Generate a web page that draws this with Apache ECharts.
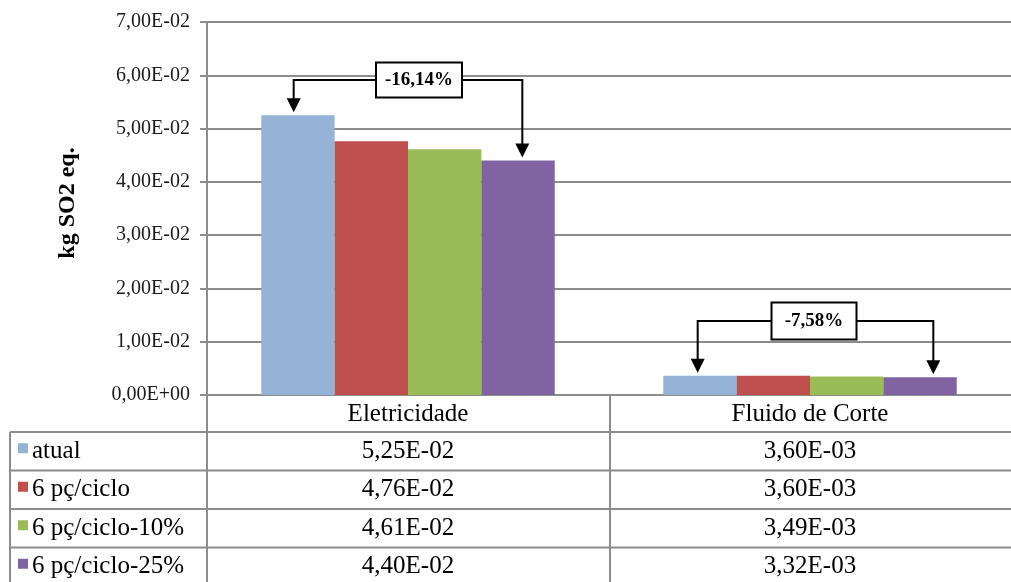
<!DOCTYPE html>
<html>
<head>
<meta charset="utf-8">
<title>kg SO2 eq.</title>
<script src="https://cdn.jsdelivr.net/npm/echarts@6/dist/echarts.min.js"></script>
<style>
  html, body { margin: 0; padding: 0; background: #fff; }
  #chart { width: 1011px; height: 582px; }
</style>
</head>
<body>
<div id="chart"></div>
<script>
// ---- data ----
const categories = ['Eletricidade', 'Fluido de Corte'];
const seriesNames = ['atual', '6 pç/ciclo', '6 pç/ciclo-10%', '6 pç/ciclo-25%'];
const atual = [5.25e-2, 3.60e-3];
const pc6 = [4.76e-2, 3.60e-3];
const pc6m10 = [4.61e-2, 3.49e-3];
const pc6m25 = [4.40e-2, 3.32e-3];
const seriesValues = [atual, pc6, pc6m10, pc6m25];
const yMin = 0, yMax = 0.07, yStep = 0.01;
// reduction callouts: label and the value level of the bracket line, per category
const changeLabels = ['-16,14%', '-7,58%'];
const changeLevels = [5.91e-2, 1.39e-2];

// ---- styles ----
const colors = ['#95B3D7', '#C0504D', '#9BBB59', '#8064A2'];
const FONT = '"Liberation Serif", "Times New Roman", serif';
const GRID = { left: 207, top: 22, width: 806, height: 373 };
const lineGray = '#8c8c8c';
const textColor = '#000';
const tableFont = '25px ' + FONT;
const headerH = 37, rowH = 38.5, tableLeft = 10;
const gapRatio = 0.27;
// arrow x nudges (px) from the bar centre, and box centre nudge from category centre
const arrowNudge = [[-4, 4], [-2, 13]];
const boxNudge = [11, 4];
const boxSize = [[86, 35], [85, 37]];

function sci(v) {
  if (v === 0) return '0,00E+00';
  const parts = v.toExponential(2).split('e');
  const n = parseInt(parts[1], 10);
  return parts[0].replace('.', ',') + 'E' + (n < 0 ? '-' : '+') + String(Math.abs(n)).padStart(2, '0');
}

const chart = echarts.init(document.getElementById('chart'), null, { renderer: 'canvas' });

chart.setOption({
  animation: false,
  backgroundColor: '#fff',
  grid: { left: GRID.left, top: GRID.top, width: GRID.width, height: GRID.height, containLabel: false },
  xAxis: {
    type: 'category',
    data: categories,
    axisLine: { show: true, lineStyle: { color: lineGray, width: 2 } },
    axisTick: { show: false },
    axisLabel: { margin: 7, fontFamily: FONT, fontSize: 25, color: textColor, lineHeight: 25 }
  },
  yAxis: {
    type: 'value',
    min: yMin, max: yMax, interval: yStep,
    axisLine: { show: true, lineStyle: { color: lineGray, width: 2 } },
    axisTick: { show: true, length: 7, lineStyle: { color: lineGray, width: 2 } },
    splitLine: { show: true, lineStyle: { color: lineGray, width: 2 } },
    axisLabel: { margin: 17, fontFamily: FONT, fontSize: 20, color: '#1a1a1a', formatter: sci }
  },
  series: seriesNames.map((name, i) => ({
    name: name,
    type: 'bar',
    data: seriesValues[i],
    barGap: '0%',
    barCategoryGap: (gapRatio * 100) + '%',
    itemStyle: { color: colors[i] }
  }))
});

// ---- overlay: axis title, data table, reduction callouts ----
const g = [];

g.push({
  type: 'text', x: 68, y: 203, rotation: Math.PI / 2,
  style: { text: 'kg SO2 eq.', font: 'bold 24px ' + FONT, fill: textColor,
           textAlign: 'center', textVerticalAlign: 'middle' }
});

const axisY = chart.convertToPixel({ yAxisIndex: 0 }, 0);
const gridRight = GRID.left + GRID.width;
const catW = GRID.width / categories.length;
const catCenters = categories.map(c => chart.convertToPixel({ xAxisIndex: 0 }, c));
const barW = catW * (1 - gapRatio) / seriesNames.length;
const tableTop = axisY + headerH;
const tableBottom = 600;

function hline(y, x1, x2) {
  g.push({ type: 'line', shape: { x1: x1, y1: y, x2: x2, y2: y },
           style: { stroke: lineGray, lineWidth: 2 }, silent: true });
}
function vline(x, y1, y2) {
  g.push({ type: 'line', shape: { x1: x, y1: y1, x2: x, y2: y2 },
           style: { stroke: lineGray, lineWidth: 2 }, silent: true });
}

// table grid
for (let r = 0; r < seriesNames.length; r++) hline(tableTop + r * rowH, tableLeft, gridRight);
vline(tableLeft, tableTop, tableBottom);
vline(GRID.left, axisY, tableBottom);
for (let c = 1; c < categories.length; c++) vline(GRID.left + c * catW, axisY, tableBottom);

// table rows: legend key + values
seriesNames.forEach((name, r) => {
  const cy = tableTop + r * rowH + rowH / 2;
  g.push({ type: 'rect', shape: { x: 18, y: cy - 8, width: 10, height: 10 },
           style: { fill: colors[r] }, silent: true });
  g.push({ type: 'text', x: 32, y: cy,
           style: { text: name, font: tableFont, fill: textColor, textAlign: 'left', textVerticalAlign: 'middle' } });
  categories.forEach((c, k) => {
    g.push({ type: 'text', x: catCenters[k], y: cy,
             style: { text: sci(seriesValues[r][k]), font: tableFont, fill: textColor,
                      textAlign: 'center', textVerticalAlign: 'middle' } });
  });
});

// reduction callouts from the first to the last series in each category
function arrowHead(x, tipY) {
  g.push({ type: 'polygon', shape: { points: [[x - 7, tipY - 14], [x + 7, tipY - 14], [x, tipY]] },
           style: { fill: '#000' }, silent: true });
}
categories.forEach((c, k) => {
  const first = 0, last = seriesNames.length - 1;
  const xl = catCenters[k] + (first - (seriesNames.length - 1) / 2) * barW + arrowNudge[k][0];
  const xr = catCenters[k] + (last - (seriesNames.length - 1) / 2) * barW + arrowNudge[k][1];
  const tipL = chart.convertToPixel({ yAxisIndex: 0 }, seriesValues[first][k]) - 3;
  const tipR = chart.convertToPixel({ yAxisIndex: 0 }, seriesValues[last][k]) - 3;
  const ly = chart.convertToPixel({ yAxisIndex: 0 }, changeLevels[k]);
  const bx = catCenters[k] + boxNudge[k];
  const [bw, bh] = boxSize[k];
  g.push({ type: 'polyline', shape: { points: [[xl, tipL - 12], [xl, ly], [bx - bw / 2, ly]] },
           style: { stroke: '#000', lineWidth: 2, fill: null }, silent: true });
  g.push({ type: 'polyline', shape: { points: [[bx + bw / 2, ly], [xr, ly], [xr, tipR - 12]] },
           style: { stroke: '#000', lineWidth: 2, fill: null }, silent: true });
  arrowHead(xl, tipL);
  arrowHead(xr, tipR);
  g.push({ type: 'rect', shape: { x: bx - bw / 2, y: ly - bh / 2, width: bw, height: bh },
           style: { fill: '#fff', stroke: '#000', lineWidth: 2 }, silent: true });
  g.push({ type: 'text', x: bx, y: ly,
           style: { text: changeLabels[k], font: 'bold 19px ' + FONT, fill: '#000',
                    textAlign: 'center', textVerticalAlign: 'middle' } });
});

chart.setOption({ graphic: { elements: g } });
</script>
</body>
</html>
